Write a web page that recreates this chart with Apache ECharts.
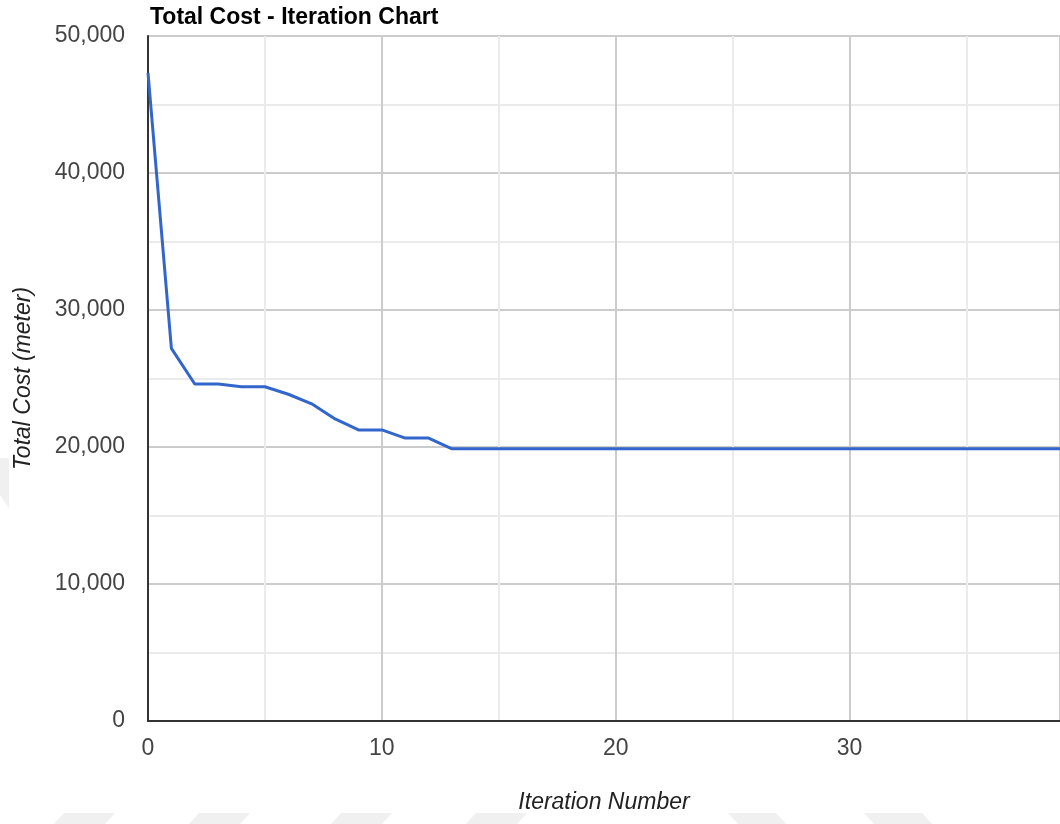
<!DOCTYPE html>
<html>
<head>
<meta charset="utf-8">
<style>
  html, body { margin: 0; padding: 0; background: #ffffff; }
  #chart { width: 1060px; height: 824px; }
</style>
<script src="https://cdn.jsdelivr.net/npm/echarts@6/dist/echarts.min.js"></script>
</head>
<body>
<div id="chart"></div>
<script>
// ---- Data ----
const titleText = 'Total Cost - Iteration Chart';
const xAxisTitle = 'Iteration Number';
const yAxisTitle = 'Total Cost (meter)';
const iterations = [0, 1, 2, 3, 4, 5, 6, 7, 8, 9, 10, 11, 12, 13, 14, 15, 16, 17, 18, 19,
                    20, 21, 22, 23, 24, 25, 26, 27, 28, 29, 30, 31, 32, 33, 34, 35, 36, 37, 38, 39];
const totalCost = [47300, 27200, 24600, 24600, 24400, 24400, 23850, 23150, 22050, 21250,
                   21250, 20650, 20650, 19870, 19870, 19870, 19870, 19870, 19870, 19870,
                   19870, 19870, 19870, 19870, 19870, 19870, 19870, 19870, 19870, 19870,
                   19870, 19870, 19870, 19870, 19870, 19870, 19870, 19870, 19870, 19870];
const xTickLabels = [0, 10, 20, 30];
const yTickLabels = [0, 10000, 20000, 30000, 40000, 50000];

const seriesData = iterations.map((x, i) => [x, totalCost[i]]);
const fontFam = '"Liberation Sans", Arial, sans-serif';

// faint background watermark shapes
const wmColor = '#f0f0f0';
const watermark = [
  [[64, 813], [115, 813], [105, 824], [54, 824]],
  [[199, 813], [250, 813], [240, 824], [189, 824]],
  [[341, 813], [392, 813], [382, 824], [331, 824]],
  [[476, 813], [527, 813], [517, 824], [466, 824]],
  [[728, 813], [776, 813], [786, 824], [738, 824]],
  [[864, 813], [922, 813], [932, 824], [874, 824]],
  [[0, 458], [9, 458], [9, 508], [0, 495]]
].map(pts => ({ type: 'polygon', z: -10, shape: { points: pts }, style: { fill: wmColor } }));

const chart = echarts.init(document.getElementById('chart'), null, { renderer: 'canvas' });
chart.setOption({
  backgroundColor: '#ffffff',
  animation: false,
  title: {
    text: titleText,
    left: 145,
    top: 1,
    textStyle: { fontFamily: fontFam, fontSize: 23, fontWeight: 'bold', color: '#000000' }
  },
  graphic: watermark,
  grid: { left: 148, right: -5, top: 36, bottom: 103, containLabel: false },
  xAxis: {
    type: 'value',
    min: 0,
    max: 39,
    interval: 5,
    name: xAxisTitle,
    nameLocation: 'middle',
    nameGap: 70,
    nameTextStyle: { fontFamily: fontFam, fontSize: 23, fontStyle: 'italic', color: '#222222' },
    axisLine: { show: true, onZero: false, lineStyle: { color: '#333333', width: 2 } },
    axisTick: { show: false },
    axisLabel: {
      showMaxLabel: false,
      margin: 16,
      fontFamily: fontFam, fontSize: 23, color: '#444444',
      formatter: v => (xTickLabels.indexOf(v) >= 0 ? String(v) : '')
    },
    splitLine: { show: true, lineStyle: { color: ['#cccccc', '#ebebeb'], width: 2 } }
  },
  yAxis: {
    type: 'value',
    min: 0,
    max: 50000,
    interval: 5000,
    name: yAxisTitle,
    nameLocation: 'middle',
    nameGap: 113,
    nameTextStyle: { fontFamily: fontFam, fontSize: 23, fontStyle: 'italic', color: '#222222' },
    axisLine: { show: true, lineStyle: { color: '#333333', width: 2 } },
    axisTick: { show: false },
    axisLabel: {
      margin: 23,
      fontFamily: fontFam, fontSize: 23, color: '#444444',
      formatter: v => (yTickLabels.indexOf(v) >= 0 ? v.toLocaleString('en-US') : '')
    },
    splitLine: { show: true, lineStyle: { color: ['#cccccc', '#ebebeb'], width: 2 } }
  },
  series: [{
    type: 'line',
    data: seriesData,
    showSymbol: false,
    symbol: 'none',
    smooth: false,
    clip: true,
    lineStyle: { color: '#3366cc', width: 3 },
    itemStyle: { color: '#3366cc' }
  }]
});
</script>
</body>
</html>
